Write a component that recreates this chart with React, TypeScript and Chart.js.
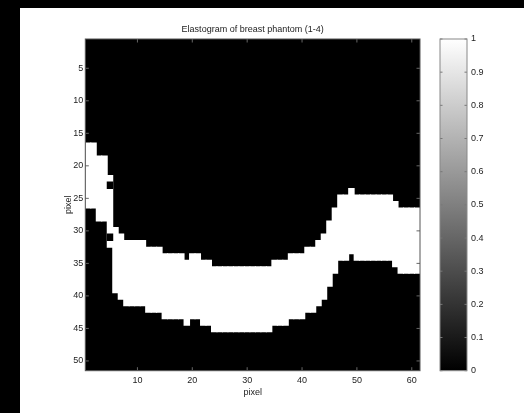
import React, { useEffect, useRef } from "react";
import { Chart, registerables } from "chart.js";

Chart.register(...registerables);

// ---------- data ----------
const chartTitle = "Elastogram of breast phantom (1-4)";
const xAxisTitle = "pixel";
const yAxisTitle = "pixel";

const imageRows = 51;

// first white row of each image column (columns 1..61)
const bandTop = [
  17, 17, 19, 19, 22, 30, 31, 32, 32, 32, 32, 33, 33, 33, 34, 34, 34, 34, 35, 34,
  34, 35, 35, 36, 36, 36, 36, 36, 36, 36, 36, 36, 36, 36, 35, 35, 35, 34, 34, 34,
  33, 33, 32, 31, 29, 27, 25, 25, 24, 25, 25, 25, 25, 25, 25, 25, 26, 27, 27, 27,
  27,
];
// last white row of each image column
const bandBottom = [
  26, 26, 28, 28, 32, 39, 40, 41, 41, 41, 41, 42, 42, 42, 43, 43, 43, 43, 44, 43,
  43, 44, 44, 45, 45, 45, 45, 45, 45, 45, 45, 45, 45, 45, 44, 44, 44, 43, 43, 43,
  42, 42, 41, 40, 38, 36, 34, 34, 33, 34, 34, 34, 34, 34, 34, 34, 35, 36, 36, 36,
  36,
];
// black pixels inside the white band
const holeColumns = [5, 5];
const holeRows = [23, 31];

const xTickValues = [10, 20, 30, 40, 50, 60];
const yTickValues = [5, 10, 15, 20, 25, 30, 35, 40, 45, 50];
const colorbarMin = 0;
const colorbarMax = 1;
const colorbarTickValues = [0, 0.1, 0.2, 0.3, 0.4, 0.5, 0.6, 0.7, 0.8, 0.9, 1];
const colorbarTickLabels = ["0", "0.1", "0.2", "0.3", "0.4", "0.5", "0.6", "0.7", "0.8", "0.9", "1"];

// ---------- styling ----------
const FONT = "'Liberation Sans', Arial, Helvetica, sans-serif";
const TEXT = "#222";
const tickFont = { family: FONT, size: 9, weight: "normal" as const };

const plotFrame = {
  id: "plotFrame",
  beforeDatasetsDraw(chart: any) {
    const { ctx, chartArea: a } = chart;
    ctx.save();
    ctx.fillStyle = "#000";
    ctx.fillRect(a.left, a.top, a.right - a.left, a.bottom - a.top);
    ctx.restore();
  },
  afterDatasetsDraw(chart: any) {
    const { ctx, chartArea: a, scales } = chart;
    const len = 3.5;
    ctx.save();
    ctx.strokeStyle = "#666";
    ctx.lineWidth = 1;
    ctx.beginPath();
    for (const v of xTickValues) {
      const px = scales.x.getPixelForValue(v);
      ctx.moveTo(px, a.bottom);
      ctx.lineTo(px, a.bottom - len);
      ctx.moveTo(px, a.top);
      ctx.lineTo(px, a.top + len);
    }
    for (const v of yTickValues) {
      const py = scales.y.getPixelForValue(v);
      ctx.moveTo(a.left, py);
      ctx.lineTo(a.left + len, py);
      ctx.moveTo(a.right, py);
      ctx.lineTo(a.right - len, py);
    }
    ctx.stroke();
    ctx.strokeStyle = "#555";
    ctx.strokeRect(a.left, a.top, a.right - a.left, a.bottom - a.top);
    ctx.restore();
  },
};

const colorbarFrame = {
  id: "colorbarFrame",
  afterDatasetsDraw(chart: any) {
    const { ctx, chartArea: a, scales } = chart;
    const len = 2.5;
    ctx.save();
    ctx.strokeStyle = "#777";
    ctx.lineWidth = 1;
    ctx.beginPath();
    for (const v of colorbarTickValues) {
      const py = scales.y.getPixelForValue(v);
      ctx.moveTo(a.left, py);
      ctx.lineTo(a.left + len, py);
      ctx.moveTo(a.right, py);
      ctx.lineTo(a.right - len, py);
    }
    ctx.stroke();
    ctx.strokeStyle = "#888";
    ctx.strokeRect(a.left, a.top, a.right - a.left, a.bottom - a.top);
    ctx.restore();
  },
};

export default function App() {
  const mainRef = useRef<HTMLCanvasElement | null>(null);
  const cbRef = useRef<HTMLCanvasElement | null>(null);

  useEffect(() => {
    if (!mainRef.current || !cbRef.current) return;
    const columns = bandTop.map((_, i) => i + 1);

    const main = new Chart(mainRef.current, {
      type: "bar",
      data: {
        datasets: [
          {
            label: "holes",
            data: holeColumns.map((c, i) => ({ x: c, y: [holeRows[i] - 0.5, holeRows[i] + 0.5] })) as any,
            backgroundColor: "#000",
            borderWidth: 0,
            grouped: false,
            inflateAmount: 0.5,
            barPercentage: 1,
            categoryPercentage: 1,
            order: 0,
          } as any,
          {
            label: "band",
            data: columns.map((c, i) => ({ x: c, y: [bandTop[i] - 0.5, bandBottom[i] + 0.5] })) as any,
            backgroundColor: "#fff",
            borderWidth: 0,
            grouped: false,
            inflateAmount: 0.5,
            barPercentage: 1,
            categoryPercentage: 1,
            order: 1,
          } as any,
        ],
      },
      options: {
        animation: false,
        responsive: false,
        devicePixelRatio: 1,
        events: [],
        layout: { padding: { left: 0, right: 104, top: 0, bottom: 0 } },
        plugins: {
          legend: { display: false },
          tooltip: { enabled: false },
          title: {
            display: true,
            text: chartTitle,
            fullSize: false,
            color: TEXT,
            font: { family: FONT, size: 9, weight: "normal" },
            padding: { top: 16, bottom: 4.2 },
          },
        },
        scales: {
          x: {
            type: "linear",
            min: 0.5,
            max: columns.length + 0.5,
            offset: false,
            grid: { display: false, drawTicks: false, tickLength: 0 },
            border: { display: false },
            afterBuildTicks: (s: any) => {
              s.ticks = xTickValues.map((v) => ({ value: v }));
            },
            afterFit: (s: any) => {
              s.height = 42.3;
            },
            ticks: { padding: 4, font: tickFont, color: TEXT, maxRotation: 0, autoSkip: false },
            title: {
              display: true,
              text: xAxisTitle,
              color: TEXT,
              font: tickFont,
              padding: { top: 0, bottom: 14.6 },
            },
          },
          y: {
            type: "linear",
            reverse: true,
            min: 0.5,
            max: imageRows + 0.5,
            grid: { display: false, drawTicks: false, tickLength: 0 },
            border: { display: false },
            afterBuildTicks: (s: any) => {
              s.ticks = yTickValues.map((v) => ({ value: v }));
            },
            afterFit: (s: any) => {
              s.width = 65.3;
            },
            ticks: { padding: 2, font: tickFont, color: TEXT, autoSkip: false },
            title: {
              display: true,
              text: yAxisTitle,
              color: TEXT,
              font: tickFont,
              padding: { top: 43, bottom: 0 },
            },
          },
        },
      } as any,
      plugins: [plotFrame],
    });

    const cb = new Chart(cbRef.current, {
      type: "bar",
      data: {
        labels: ["colorbar"],
        datasets: [
          {
            data: [[colorbarMin, colorbarMax]] as any,
            backgroundColor: (ctx: any) => {
              const { chartArea, ctx: c } = ctx.chart;
              if (!chartArea) return "#888";
              const g = c.createLinearGradient(0, chartArea.bottom, 0, chartArea.top);
              g.addColorStop(0, "#000");
              g.addColorStop(1, "#fff");
              return g;
            },
            borderWidth: 0,
            barPercentage: 1,
            categoryPercentage: 1,
            inflateAmount: 0,
          } as any,
        ],
      },
      options: {
        animation: false,
        responsive: false,
        devicePixelRatio: 1,
        events: [],
        layout: { padding: { left: 20, right: 0, top: 31, bottom: 42.3 } },
        plugins: { legend: { display: false }, tooltip: { enabled: false } },
        scales: {
          x: { display: false },
          y: {
            position: "right",
            min: colorbarMin,
            max: colorbarMax,
            grid: { display: false, drawTicks: false, tickLength: 0 },
            border: { display: false },
            afterBuildTicks: (s: any) => {
              s.ticks = colorbarTickValues.map((v) => ({ value: v }));
            },
            afterFit: (s: any) => {
              s.width = 57;
            },
            ticks: {
              padding: 4,
              font: tickFont,
              color: TEXT,
              autoSkip: false,
              callback: (_v: any, i: number) => colorbarTickLabels[i],
            },
          },
        },
      } as any,
      plugins: [colorbarFrame],
    });

    return () => {
      main.destroy();
      cb.destroy();
    };
  }, []);

  return (
    <div
      style={{
        position: "fixed",
        left: 0,
        top: 0,
        width: 524,
        height: 413,
        background: "#000",
        overflow: "hidden",
      }}
    >
      <div
        style={{
          position: "absolute",
          left: 20,
          top: 8,
          width: 504,
          height: 405,
          background: "#fff",
        }}
      >
        <canvas
          ref={mainRef}
          width={504}
          height={405}
          style={{ position: "absolute", left: 0, top: 0, width: 504, height: 405, filter: "blur(0.6px)" }}
        />
        <canvas
          ref={cbRef}
          width={104}
          height={405}
          style={{ position: "absolute", left: 400, top: 0, width: 104, height: 405, filter: "blur(0.6px)" }}
        />
      </div>
    </div>
  );
}
